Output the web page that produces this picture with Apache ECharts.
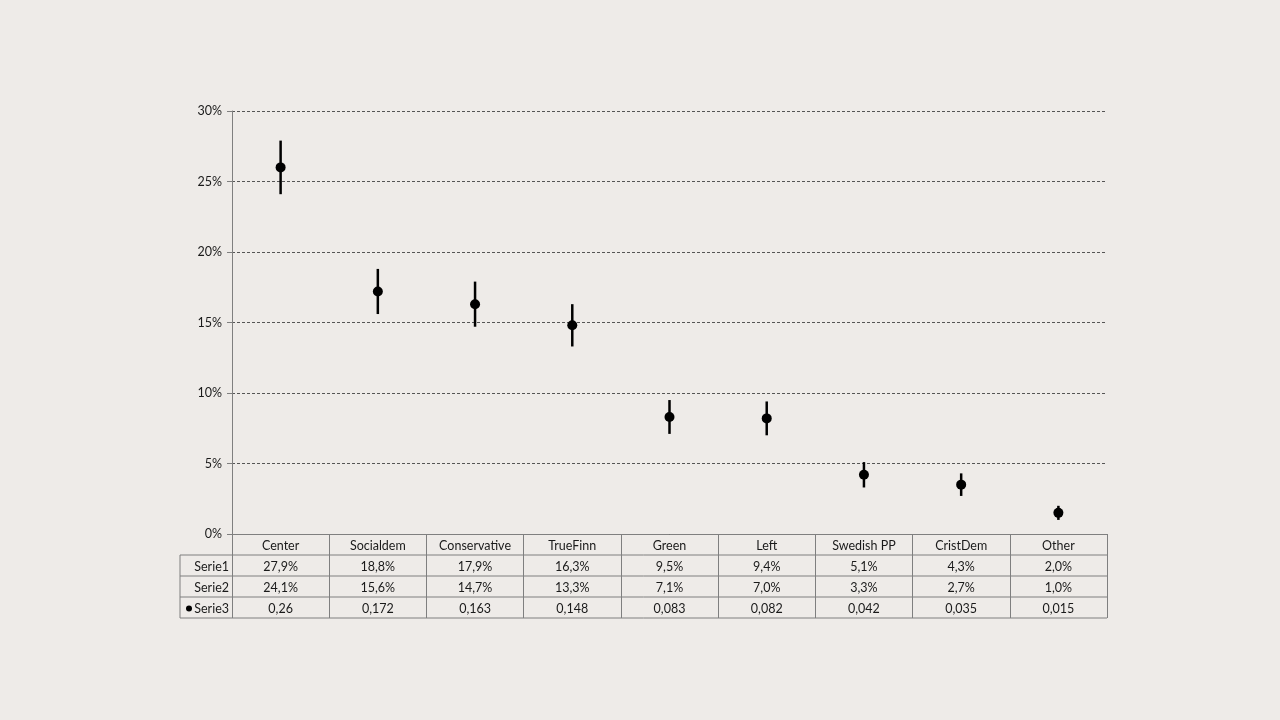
<!DOCTYPE html>
<html>
<head>
<meta charset="utf-8">
<script src="https://cdn.jsdelivr.net/npm/echarts@6/dist/echarts.min.js"></script>
<style>
html, body { margin: 0; padding: 0; background: #eeebe8; }
#main { width: 1280px; height: 720px; }
</style>
</head>
<body>
<div id="main"></div>
<script>
var categories = ['Center', 'Socialdem', 'Conservative', 'TrueFinn', 'Green', 'Left', 'Swedish PP', 'CristDem', 'Other'];
var serie1 = [27.9, 18.8, 17.9, 16.3, 9.5, 9.4, 5.1, 4.3, 2.0];   // high, %
var serie2 = [24.1, 15.6, 14.7, 13.3, 7.1, 7.0, 3.3, 2.7, 1.0];   // low, %
var serie3 = [0.26, 0.172, 0.163, 0.148, 0.083, 0.082, 0.042, 0.035, 0.015]; // point, share
var rowNames = ['Serie1', 'Serie2', 'Serie3'];

var FONT = 'Lato, "Open Sans", sans-serif';
var gridLeft = 232, gridRight = 173, gridTop = 111, gridBottom = 186;
var rowH = 21;

function pct(v) { return v.toFixed(1).replace('.', ',') + '%'; }
function dec(v) { return String(v).replace('.', ','); }

var myChart = echarts.init(document.getElementById('main'));

var axisY = 720 - gridBottom;
var tableLeft = 180, tableRight = 1280 - gridRight;
var graphics = [];
// horizontal table lines under the header row
for (var r = 1; r <= 4; r++) {
    graphics.push({
        type: 'line',
        shape: { x1: tableLeft, y1: axisY + r * rowH, x2: tableRight, y2: axisY + r * rowH },
        style: { stroke: '#7f7f7f', lineWidth: 1 }
    });
}
graphics.push({
    type: 'line',
    shape: { x1: tableLeft, y1: axisY + rowH, x2: tableLeft, y2: axisY + 4 * rowH },
    style: { stroke: '#7f7f7f', lineWidth: 1 }
});
rowNames.forEach(function (name, i) {
    graphics.push({
        type: 'text',
        style: {
            x: gridLeft - 3, y: axisY + (i + 1.5) * rowH + 1,
            text: name, textAlign: 'right', textVerticalAlign: 'middle',
            font: '12.5px ' + FONT, fill: '#1a1a1a'
        }
    });
});
graphics.push({
    type: 'circle',
    shape: { cx: 189, cy: axisY + 3.5 * rowH + 1, r: 3 },
    style: { fill: '#000' }
});

var option = {
    backgroundColor: '#eeebe8',
    animation: false,
    grid: { left: gridLeft, right: gridRight, top: gridTop, bottom: gridBottom },
    xAxis: {
        type: 'category',
        data: categories,
        boundaryGap: true,
        axisLine: { lineStyle: { color: '#7f7f7f', width: 1 } },
        axisTick: { show: true, length: 4 * rowH, lineStyle: { color: '#7f7f7f' } },
        axisLabel: {
            margin: 1,
            interval: 0,
            lineHeight: rowH,
            color: '#1a1a1a',
            fontFamily: FONT,
            fontSize: 12.5,
            formatter: function (val, idx) {
                return [val, pct(serie1[idx]), pct(serie2[idx]), dec(serie3[idx])].join('\n');
            }
        }
    },
    yAxis: {
        type: 'value',
        min: 0, max: 30, interval: 5,
        axisLine: { show: true, lineStyle: { color: '#7f7f7f' } },
        axisTick: { show: true, length: 5, lineStyle: { color: '#7f7f7f' } },
        axisLabel: {
            formatter: '{value}%', color: '#1a1a1a', fontFamily: FONT, fontSize: 12.5, margin: 10
        },
        splitLine: { lineStyle: { color: '#555', type: [3, 2], width: 1 } }
    },
    series: [
        {
            type: 'custom',
            data: categories.map(function (c, i) { return [i, serie2[i], serie1[i]]; }),
            renderItem: function (params, api) {
                var lo = api.coord([api.value(0), api.value(1)]);
                var hi = api.coord([api.value(0), api.value(2)]);
                return {
                    type: 'line',
                    shape: { x1: lo[0], y1: lo[1], x2: hi[0], y2: hi[1] },
                    style: { stroke: '#000', lineWidth: 2.5 }
                };
            },
            z: 2
        },
        {
            type: 'scatter',
            data: serie3.map(function (v) { return v * 100; }),
            symbol: 'circle',
            symbolSize: 10,
            itemStyle: { color: '#000', opacity: 1 },
            z: 3
        }
    ],
    graphic: graphics
};
myChart.setOption(option);
</script>
</body>
</html>
